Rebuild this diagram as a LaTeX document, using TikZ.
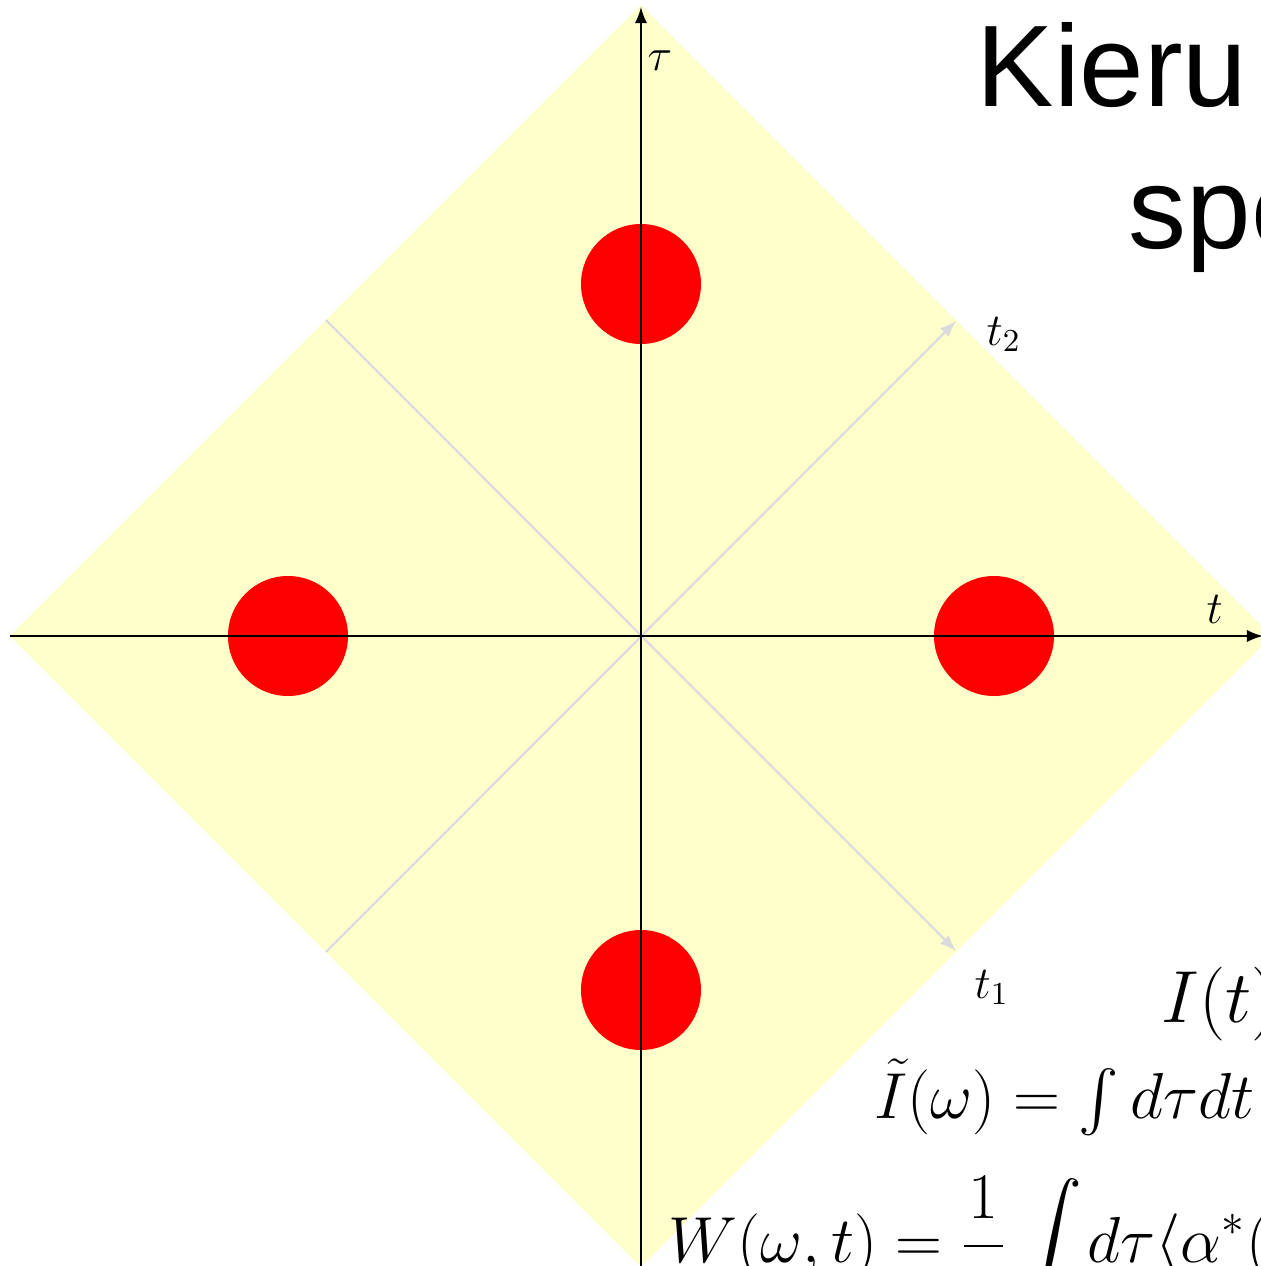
\RequirePackage{fix-cm}
\documentclass[tikz,border=0pt]{standalone}
\usepackage{amsmath}
\usepackage{fontspec}
\newfontfamily\titlefont{Liberation Sans}
\definecolor{paleyellow}{RGB}{255,255,204}
\definecolor{lightline}{RGB}{218,218,222}
\begin{document}
\begin{tikzpicture}
        \tikzstyle{dot} = [circle, fill=red, minimum size=1.2cm, inner sep=0pt]
        \tikzstyle{lab} = [inner sep=0pt, anchor=base west, font=\fontsize{13}{15}\selectfont]
        \useasboundingbox (-6.41,-6.30) rectangle (6.19,6.36);
        % wigner plane
        \fill[paleyellow] (-6.31,0) -- (0,6.31) -- (6.31,0) -- (0,-6.31) -- cycle;
        \coordinate (A1) at (-3.15,3.16);
        \coordinate (B1) at (3.15,-3.15);
        \coordinate (A2) at (-3.15,-3.16);
        \coordinate (B2) at (3.15,3.15);
        \draw[->, >=latex, lightline, line width=0.6pt] (A1) -- (B1);
        \draw[->, >=latex, lightline, line width=0.6pt] (A2) -- (B2);
        \node[dot] (Dtop) at (0,3.52) {};
        \node[dot] (Dbot) at (0,-3.54) {};
        \node[dot] (Dleft) at (-3.53,0) {};
        \node[dot] (Dright) at (3.53,0) {};
        \coordinate (X0) at (-6.31,0);
        \coordinate (X1) at (6.22,0);
        \coordinate (Y0) at (0,-6.40);
        \coordinate (Y1) at (0,6.29);
        \draw[->, >=latex, line width=0.6pt] (X0) -- (X1);
        \draw[->, >=latex, line width=0.6pt] (Y0) -- (Y1);
        \node[lab] (tau) at (0.06,5.66) {$\tau$};
        \node[lab] (t) at (5.65,0.13) {$t$};
        \node[lab] (t2) at (3.45,2.91) {$t_2$};
        \node[lab] (t1) at (3.33,-3.62) {$t_1$};
        % title and formulas
        \node[inner sep=0pt, anchor=base west, font=\titlefont\fontsize{33}{40}\selectfont] (title1) at (3.35,5.30) {Kieru};
        \node[inner sep=0pt, anchor=base west, font=\titlefont\fontsize{33}{40}\selectfont] (title2) at (4.87,3.88) {spe};
        \node[inner sep=0pt, anchor=base west, font=\fontsize{21}{25}\selectfont] (It) at (5.20,-3.86) {$I(t)$};
        \node[inner sep=0pt, anchor=base west, font=\fontsize{18.5}{22}\selectfont] (Iw) at (2.33,-4.82) {$\tilde{I}(\omega) = \int d\tau dt$};
        \node[inner sep=0pt, anchor=base west, font=\fontsize{18.5}{22}\selectfont] (W) at (0.27,-6.26) {$\displaystyle W(\omega,t) = \frac{1}{\pi}\hspace{1pt}\int\mkern-1.5mu d\tau\langle\alpha^*($};
      \end{tikzpicture}
\end{document}
